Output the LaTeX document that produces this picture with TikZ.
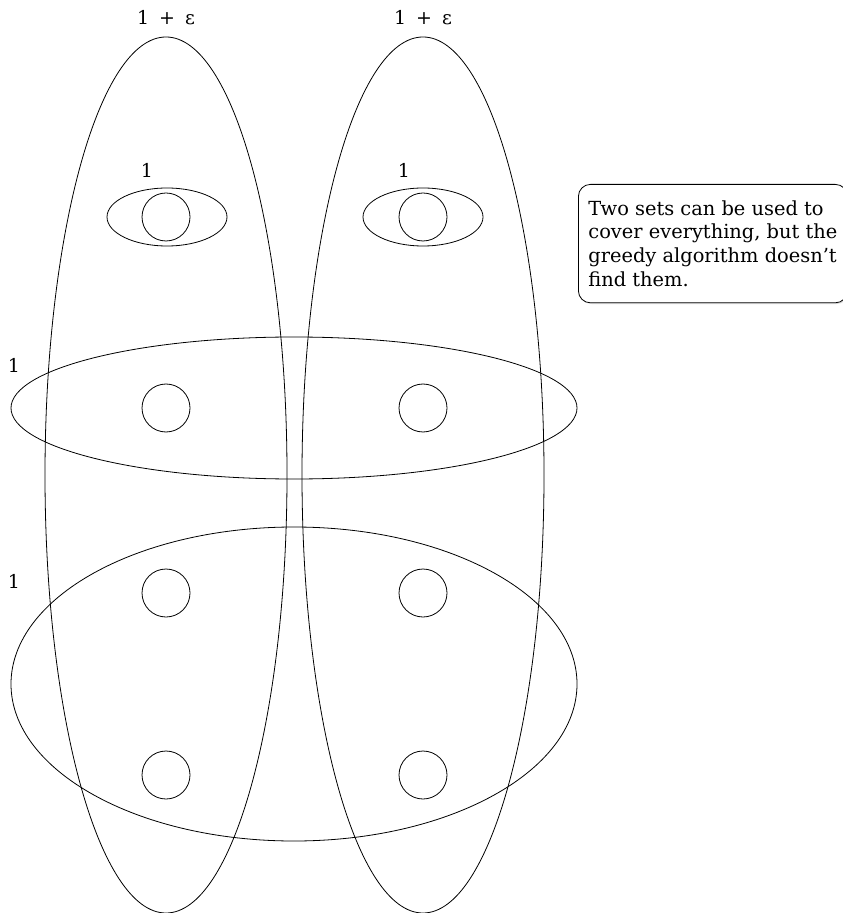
\documentclass[tikz,border=0pt]{standalone}
\usepackage{fontspec}
\setmainfont{DejaVu Serif}
\usepackage{tikz}
\usetikzlibrary{shadows}

\begin{document}
\begin{tikzpicture}[x=0.5pt,y=-0.5pt,
    elem/.style={draw,circle,minimum size=24pt,inner sep=0pt},
    wt/.style={font=\fontsize{9.5}{12}\selectfont,inner sep=1pt},
    note/.style={draw,fill=white,rounded corners=6pt,align=left,inner xsep=5pt,inner ysep=8pt,
      font=\fontsize{9.7}{11.9}\selectfont,drop shadow={shadow xshift=0.6pt,shadow yshift=-0.6pt,fill=black!30}}]
  \useasboundingbox (0,0) rectangle (842,913);
  % the two tall sets
  \draw (166,475) ellipse (121pt*0.5 and 438pt*0.5);
  \draw (423,475) ellipse (121pt*0.5 and 438pt*0.5);
  % small sets at the top
  \draw (167,217) ellipse (60pt*0.5 and 29pt*0.5);
  \draw (423,217) ellipse (60pt*0.5 and 29pt*0.5);
  % the two wide sets
  \draw (294,408) ellipse (283pt*0.5 and 71pt*0.5);
  \draw (294,684) ellipse (283pt*0.5 and 157pt*0.5);
  % elements
  \node[elem] (a1) at (166,217) {};
  \node[elem] (b1) at (423,217) {};
  \node[elem] (a2) at (166,408) {};
  \node[elem] (b2) at (423,408) {};
  \node[elem] (a3) at (166,593) {};
  \node[elem] (b3) at (423,593) {};
  \node[elem] (a4) at (166,775) {};
  \node[elem] (b4) at (423,775) {};
  % weights
  \node[wt] (wa) at (166,18) {1\hspace{5pt}+\hspace{5pt}ε};
  \node[wt] (wb) at (423,18) {1\hspace{5pt}+\hspace{5pt}ε};
  \node[wt] (wsa) at (147,170) {1};
  \node[wt] (wsb) at (404,170) {1};
  \node[wt] (wm) at (14,365) {1};
  \node[wt] (wl) at (14,581) {1};
  % remark
  \node[note,anchor=north west] (rem) at (578,184) {Two sets can be used to\\cover everything, but the\\greedy algorithm doesn’t\\find them.};
\end{tikzpicture}
\end{document}
